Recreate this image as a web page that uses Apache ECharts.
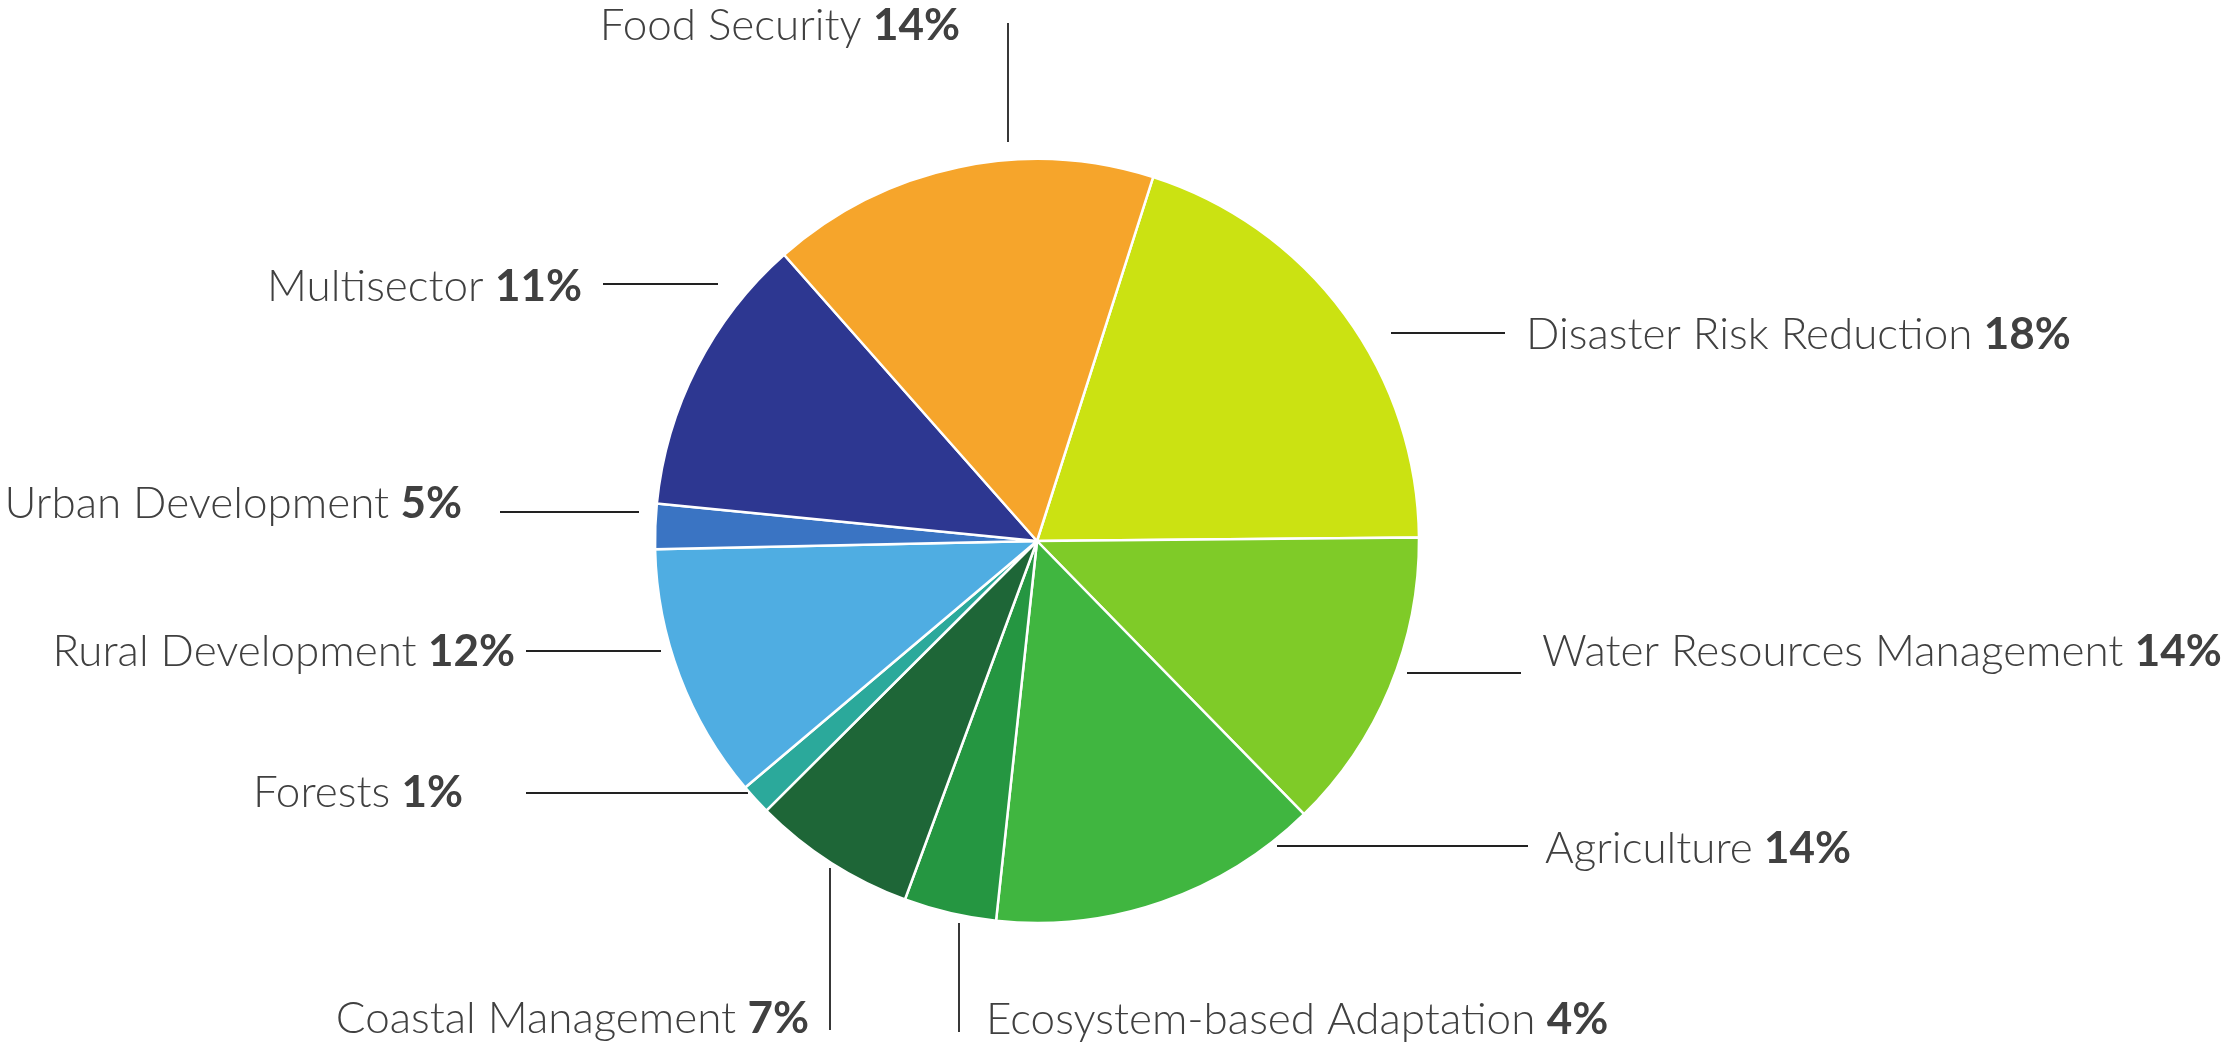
<!DOCTYPE html>
<html><head><meta charset="utf-8">
<script src="https://cdn.jsdelivr.net/npm/echarts@6/dist/echarts.min.js"></script>
<style>html,body{margin:0;padding:0;background:#fff;}#c{width:2229px;height:1045px;}</style>
</head><body><div id="c"></div>
<script>
// ---- data ----
const categories = ['Disaster Risk Reduction','Water Resources Management','Agriculture','Ecosystem-based Adaptation','Coastal Management','Forests','Rural Development','Urban Development','Multisector','Food Security'];
// slice sizes as drawn in the picture (angular share, %)
const sliceValues = [19.9, 12.8, 14.0, 3.9, 6.9, 1.3, 10.8, 1.9, 11.9, 16.4];
// percentages printed in the labels
const labelPercents = ['18%','14%','14%','4%','7%','1%','12%','5%','11%','14%'];

// ---- styles / layout ----
const colors = ['#CBE212','#7FCB28','#40B640','#259641','#1E6637','#2BA99B','#4FADE2','#3A74C3','#2D3791','#F6A52B'];
const CXF = 1037/2229, CYF = 541/1045, RREF = 382;
// label anchor & leader line, offsets from pie centre in units of a 382px radius
const LAYOUT = [
  {a:[489,-206], al:'left',  l:[[354,-208],[468,-208]]},
  {a:[505,111],  al:'left',  l:[[370,132],[484,132]]},
  {a:[508,308],  al:'left',  l:[[240,305],[491,305]]},
  {a:[-51,479],  al:'left',  l:[[-78,382],[-78,491]]},
  {a:[-228,478], al:'right', l:[[-207,327],[-207,489]]},
  {a:[-574,252], al:'right', l:[[-511,252],[-289,252]]},
  {a:[-522,111], al:'right', l:[[-511,110],[-376,110]]},
  {a:[-575,-37], al:'right', l:[[-537,-29],[-398,-29]]},
  {a:[-455,-254],al:'right', l:[[-434,-257],[-319,-257]]},
  {a:[-77,-515], al:'right', l:[[-29,-518],[-29,-399]]}
];

const chart = echarts.init(document.getElementById('c'));
function geom(){
  const W = chart.getWidth(), H = chart.getHeight();
  const r = RREF * Math.min(W/2229, H/1045);
  return {cx: W*CXF, cy: H*CYF, r: r, s: r/RREF};
}
const g0 = geom();
const FONT = 'Lato';
chart.setOption({
  animation: false,
  backgroundColor: '#ffffff',
  series: [{
    type: 'pie',
    center: [(CXF*100)+'%', (CYF*100)+'%'],
    radius: g0.r,
    startAngle: 72.3,
    clockwise: true,
    avoidLabelOverlap: false,
    silent: true,
    itemStyle: {borderColor: '#ffffff', borderWidth: 2.5},
    data: categories.map((n, i) => ({name: n, value: sliceValues[i], itemStyle: {color: colors[i]}})),
    label: {
      show: true,
      position: 'outside',
      fontFamily: FONT,
      fontSize: 44,
      color: '#404040',
      formatter: p => '{n|' + p.name + '} {b|' + labelPercents[p.dataIndex] + '}',
      rich: {
        n: {fontFamily: FONT, fontSize: 44, fontWeight: 300, color: '#404040'},
        b: {fontFamily: FONT, fontSize: 44, fontWeight: 'bold', color: '#404040'}
      }
    },
    labelLine: {show: true, smooth: false, lineStyle: {color: '#222222', width: 1.8}},
    labelLayout: function (p) {
      const L = LAYOUT[p.dataIndex];
      const g = geom();
      return {
        x: g.cx + L.a[0]*g.s,
        y: g.cy + L.a[1]*g.s,
        align: L.al,
        verticalAlign: 'middle',
        labelLinePoints: L.l.map(pt => [g.cx + pt[0]*g.s, g.cy + pt[1]*g.s])
      };
    }
  }]
});
</script>
</body></html>
